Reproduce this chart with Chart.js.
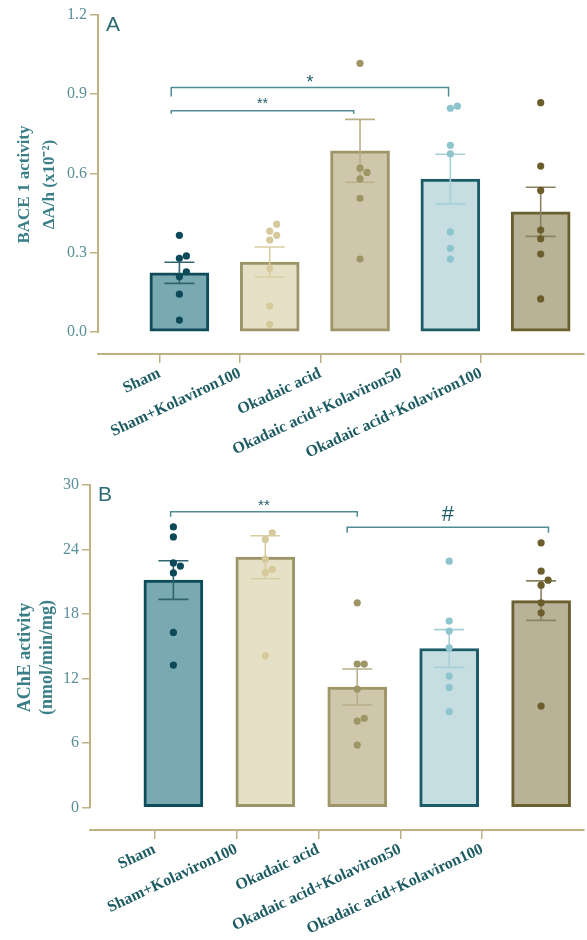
<!DOCTYPE html>
<html>
<head>
<meta charset="utf-8">
<script src="https://cdn.jsdelivr.net/npm/chart.js@4.4.1/dist/chart.umd.min.js"></script>
<style>
  html, body { margin: 0; padding: 0; background: #ffffff; }
  .panel { position: relative; width: 587px; }
  canvas { display: block; }
</style>
</head>
<body>
<div class="panel" style="height:465px"><canvas id="bace"></canvas></div>
<div class="panel" style="height:475px"><canvas id="ache"></canvas></div>
<script>
// Treatment groups (x axis)
const groupLabels = ['Sham', 'Sham+Kolaviron100', 'Okadaic acid', 'Okadaic acid+Kolaviron50', 'Okadaic acid+Kolaviron100'];

// Panel A: BACE 1 activity, ΔA/h (x10^-2)
const baceMeans = [0.224, 0.265, 0.686, 0.579, 0.455];
const baceSEM   = [0.040, 0.057, 0.119, 0.094, 0.093];
const baceSamples = [
  [0.366, 0.288, 0.279, 0.228, 0.209, 0.143, 0.045],
  [0.408, 0.382, 0.366, 0.348, 0.240, 0.098, 0.029],
  [1.017, 0.620, 0.604, 0.580, 0.506, 0.276],
  [0.855, 0.847, 0.707, 0.674, 0.379, 0.317, 0.276],
  [0.868, 0.628, 0.536, 0.386, 0.353, 0.295, 0.125]
];
const baceTicks = [0, 0.3, 0.6, 0.9, 1.2];
const baceComparisons = [
  { from: -0.09, to: 1.93, level: 0.838, mark: '**' },
  { from: -0.09, to: 2.98, level: 0.926, mark: '*' }
];

// Panel B: AChE activity (nmol/min/mg)
const acheMeans = [21.15, 23.28, 11.20, 14.78, 19.24];
const acheSEM   = [1.80, 2.00, 1.68, 1.76, 1.84];
const acheSamples = [
  [26.10, 25.17, 22.75, 22.45, 21.82, 16.28, 13.24],
  [25.55, 24.93, 23.10, 22.14, 21.86, 14.10],
  [19.03, 13.33, 13.33, 11.00, 8.28, 8.03, 5.80],
  [22.91, 17.33, 16.40, 14.85, 12.21, 11.16, 8.90],
  [24.62, 21.98, 21.14, 20.68, 19.03, 18.10, 9.42]
];
const acheTicks = [0, 6, 12, 18, 24, 30];
const acheComparisons = [
  { from: -0.03, to: 2.0, level: 27.52, mark: '**' },
  { from: 1.89, to: 4.08, level: 26.06, mark: '#' }
];

// Group styling
const barFill    = ['#7aaab1', '#e6e0c7', '#cec7ac', '#c6dee2', '#b8b297'];
const barEdge    = ['#0f4c5a', '#9c9567', '#9e9668', '#1c5c67', '#6a5f2e'];
const dotFill    = ['#0c4a59', '#d6ca9c', '#9d9565', '#8dc4cd', '#6b5e2c'];
const whiskerCol = ['#2f6470', '#d9cea3', '#b8af88', '#a6d0d8', '#8a8262'];

const axisColor  = '#bfb184';
const tickColor  = '#5a8f98';
const titleColor = '#3a7f88';
const labelColor = '#1e5c63';
const markColor  = '#1f5c66';
const bracketCol = '#4f8a95';
const serif = '"Liberation Serif", "Times New Roman", Times, serif';
const sans = '"Liberation Sans", Arial, "DejaVu Sans", sans-serif';

const panels = [
  {
    id: 'bace', letter: 'A',
    means: baceMeans, sem: baceSEM, samples: baceSamples, ticks: baceTicks, comparisons: baceComparisons,
    title: ['BACE 1 activity', 'ΔA/h (x10⁻²)'], decimals: 1,
    yRange: [-0.0833, 1.2], barRange: [-0.901, 4.473], labelRange: [-0.765, 5.272],
    axisWidth: 98, axisHeight: 111, padTop: 15,
    titleSize: 17, titleLine: 25, titlePad: 12.5,
    marks: { '*': { size: 18, gap: 8.5, drop: 9 }, '**': { size: 14, gap: 9.7, drop: 3 } }
  },
  {
    id: 'ache', letter: 'B',
    means: acheMeans, sem: acheSEM, samples: acheSamples, ticks: acheTicks, comparisons: acheComparisons,
    title: ['AChE activity', '(nmol/min/mg)'], decimals: 0,
    yRange: [-2.113, 30], barRange: [-0.907, 4.46], labelRange: [-0.788, 5.236],
    axisWidth: 90, axisHeight: 110, padTop: 20,
    titleSize: 18, titleLine: 22, titlePad: 14,
    marks: { '**': { size: 15, gap: 8.7, drop: 5 }, '#': { size: 22, gap: 14, drop: 5.5 } }
  }
];

// Mean ± SEM whiskers, drawn right after the bars so the dots sit on top
function whiskers(p) {
  return {
    id: 'whiskers',
    afterDatasetDraw(chart, args) {
      if (args.index !== 0) return;
      const { ctx, scales: { x, y } } = chart;
      ctx.save();
      ctx.lineWidth = 1.6;
      p.means.forEach((m, i) => {
        const cx = x.getPixelForValue(i);
        const top = y.getPixelForValue(m + p.sem[i]);
        const bot = y.getPixelForValue(m - p.sem[i]);
        ctx.strokeStyle = whiskerCol[i];
        ctx.beginPath();
        ctx.moveTo(cx, top); ctx.lineTo(cx, bot);
        ctx.moveTo(cx - 15, top); ctx.lineTo(cx + 15, top);
        ctx.moveTo(cx - 15, bot); ctx.lineTo(cx + 15, bot);
        ctx.stroke();
      });
      ctx.restore();
    }
  };
}

// Value axis line (0 to max), significance brackets and the panel letter
function decorations(p) {
  return {
    id: 'decorations',
    afterDraw(chart) {
      const { ctx, chartArea, scales: { x, y } } = chart;
      ctx.save();
      ctx.strokeStyle = axisColor;
      ctx.lineWidth = 2;
      ctx.beginPath();
      ctx.moveTo(chartArea.left, y.getPixelForValue(0) + 1);
      ctx.lineTo(chartArea.left, y.getPixelForValue(p.yRange[1]) - 1);
      ctx.stroke();

      p.comparisons.forEach(c => {
        const st = p.marks[c.mark];
        const x0 = x.getPixelForValue(c.from);
        const x1 = x.getPixelForValue(c.to);
        const yl = y.getPixelForValue(c.level);
        ctx.strokeStyle = bracketCol;
        ctx.lineWidth = 1.5;
        ctx.beginPath();
        ctx.moveTo(x0, yl + st.drop);
        ctx.lineTo(x0, yl);
        ctx.lineTo(x1, yl);
        ctx.lineTo(x1, yl + st.drop);
        ctx.stroke();
        ctx.font = st.size + 'px ' + sans;
        ctx.fillStyle = markColor;
        ctx.textAlign = 'center';
        ctx.textBaseline = 'alphabetic';
        const m = ctx.measureText(c.mark);
        const cy = yl - st.gap;
        ctx.fillText(c.mark, (x0 + x1) / 2, cy + (m.actualBoundingBoxAscent - m.actualBoundingBoxDescent) / 2);
      });

      ctx.font = '21px ' + sans;
      ctx.fillStyle = '#2d6b75';
      ctx.textAlign = 'left';
      ctx.textBaseline = 'middle';
      ctx.fillText(p.letter, chartArea.left + 8, chartArea.top + 10.5);
      ctx.restore();
    }
  };
}

// Spread overlapping dots sideways (simple swarm) using the chart's own scales
function spreadDots(chart, samples) {
  const xs = chart.scales.x, ys = chart.scales.y;
  const unit = xs.getPixelForValue(1) - xs.getPixelForValue(0);
  const step = 7, minGap = 7;
  samples.forEach((vals, g) => {
    const ds = chart.data.datasets[g + 1];
    const order = vals.map((v, k) => k).sort((a, b) => vals[a] - vals[b]);
    const placed = [];
    order.forEach(k => {
      const py = ys.getPixelForValue(vals[k]);
      for (const m of [0, 1, -1, 2, -2, 3, -3]) {
        const px = m * step;
        if (placed.every(q => Math.hypot(q.x - px, q.y - py) >= minGap)) {
          placed.push({ x: px, y: py });
          ds.data[k].x = g + px / unit;
          break;
        }
      }
    });
  });
  chart.update('none');
}

panels.forEach(p => {
  const datasets = [{
    type: 'bar', order: 2, xAxisID: 'x', yAxisID: 'y',
    data: p.means.map((m, i) => ({ x: i, y: m })),
    backgroundColor: barFill, borderColor: barEdge,
    borderWidth: 3, borderSkipped: false, barThickness: 59
  }];
  p.samples.forEach((vals, g) => datasets.push({
    type: 'scatter', order: 1, xAxisID: 'x', yAxisID: 'y',
    data: vals.map(v => ({ x: g, y: v })),
    pointRadius: 3.6, pointHoverRadius: 3.6,
    pointBackgroundColor: dotFill[g], pointBorderWidth: 0
  }));

  const chart = new Chart(document.getElementById(p.id), {
    type: 'bar',
    data: { datasets },
    plugins: [whiskers(p), decorations(p)],
    options: {
      responsive: true,
      maintainAspectRatio: false,
      animation: false,
      events: [],
      layout: { padding: { top: p.padTop, left: 0, right: 0, bottom: 0 } },
      plugins: { legend: { display: false }, tooltip: { enabled: false } },
      scales: {
        x: { type: 'linear', display: false, offset: false, min: p.barRange[0], max: p.barRange[1] },
        groups: {
          type: 'linear', position: 'bottom', offset: false,
          min: p.labelRange[0], max: p.labelRange[1],
          afterBuildTicks: s => { s.ticks = groupLabels.map((_, i) => ({ value: i })); },
          afterFit: s => { s.height = p.axisHeight; },
          ticks: {
            autoSkip: false, minRotation: 25, maxRotation: 25, padding: 1,
            color: labelColor,
            font: { family: serif, size: 16, weight: 'bold' },
            callback: v => groupLabels[v]
          },
          grid: { offset: false, drawOnChartArea: false, drawTicks: true, tickLength: 9, color: axisColor, lineWidth: 1.5 },
          border: { display: true, color: axisColor, width: 2 }
        },
        y: {
          type: 'linear', position: 'left',
          min: p.yRange[0], max: p.yRange[1],
          afterBuildTicks: s => { s.ticks = p.ticks.map(v => ({ value: v })); },
          afterFit: s => { s.width = p.axisWidth; },
          ticks: {
            padding: 3, color: tickColor,
            font: { family: serif, size: 16 },
            callback: v => Number(v).toFixed(p.decimals)
          },
          grid: { drawOnChartArea: false, drawTicks: true, tickLength: 8, color: axisColor, lineWidth: 1.5 },
          border: { display: false },
          title: {
            display: true, text: p.title, color: titleColor,
            font: { family: serif, size: p.titleSize, weight: 'bold', lineHeight: p.titleLine / p.titleSize },
            padding: { top: p.titlePad, bottom: 0 }
          }
        }
      }
    }
  });
  spreadDots(chart, p.samples);
});
</script>
</body>
</html>
